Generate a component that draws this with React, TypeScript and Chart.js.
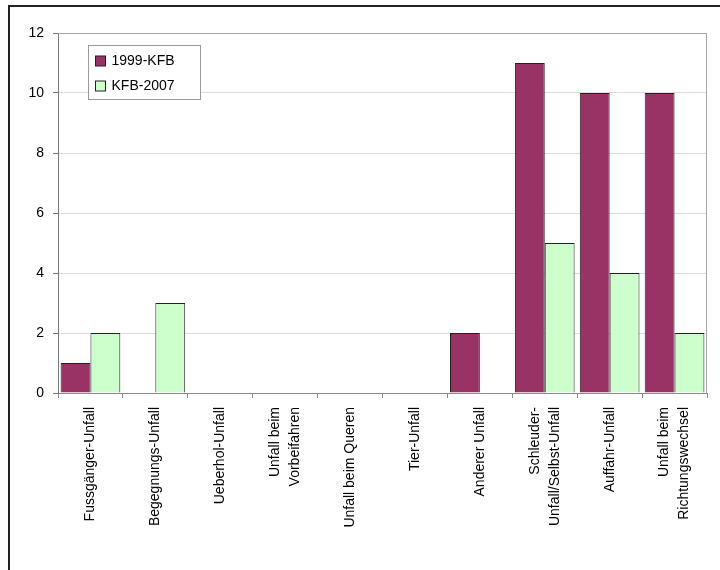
import React, { useEffect, useRef } from "react";
import { Chart, registerables } from "chart.js";

Chart.register(...registerables);

// Unfalltypen (x-axis categories); nested arrays are multi-line labels
const categories: (string | string[])[] = [
  "Fussgänger-Unfall",
  "Begegnungs-Unfall",
  "Ueberhol-Unfall",
  ["Unfall beim", "Vorbeifahren"],
  "Unfall beim Queren",
  "Tier-Unfall",
  "Anderer Unfall",
  ["Schleuder-", "Unfall/Selbst-Unfall"],
  "Auffahr-Unfall",
  ["Unfall beim", "Richtungswechsel"],
];

const seriesNames = ["1999-KFB", "KFB-2007"];
const values1999: number[] = [1, 0, 0, 0, 0, 0, 2, 11, 10, 10];
const values2007: number[] = [2, 3, 0, 0, 0, 0, 0, 5, 4, 2];

const yMin = 0;
const yMax = 12;
const yStep = 2;

const FONT = "'Liberation Sans', Arial, sans-serif";
const MAROON = "#993366";
const MINT = "#CCFFCC";

// White page, heavy outer frame and the grey plot-area border
const framePlugin = {
  id: "frame",
  beforeDraw(chart: Chart) {
    const { ctx, width, height } = chart;
    ctx.save();
    ctx.fillStyle = "#ffffff";
    ctx.fillRect(0, 0, width, height);
    ctx.strokeStyle = "#222222";
    ctx.lineWidth = 2;
    ctx.beginPath();
    ctx.moveTo(9, height + 5);
    ctx.lineTo(9, 6);
    ctx.lineTo(width + 5, 6);
    ctx.stroke();
    ctx.restore();
  },
  beforeDatasetsDraw(chart: Chart) {
    const { ctx, chartArea: a } = chart;
    ctx.save();
    ctx.strokeStyle = "#a6a6a6";
    ctx.lineWidth = 1;
    ctx.beginPath();
    ctx.moveTo(a.left, a.top + 0.5);
    ctx.lineTo(a.right - 0.5, a.top + 0.5);
    ctx.lineTo(a.right - 0.5, a.bottom);
    ctx.stroke();
    ctx.restore();
  },
};

// Vertical category labels, multi-line ones centred on their category
const verticalLabels = {
  id: "verticalLabels",
  afterDraw(chart: Chart) {
    const { ctx } = chart;
    const scale: any = chart.scales.x;
    const lineH = 20;
    ctx.save();
    ctx.font = `14px ${FONT}`;
    ctx.fillStyle = "#000000";
    ctx.textAlign = "right";
    ctx.textBaseline = "middle";
    (chart.data.labels as any[]).forEach((lab, i) => {
      const lines: string[] = Array.isArray(lab) ? lab : [lab];
      const cx = scale.getPixelForTick(i);
      const top = scale.top + 14;
      lines.forEach((line, j) => {
        const x = cx + (j - (lines.length - 1) / 2) * lineH;
        ctx.save();
        ctx.translate(x, top);
        ctx.rotate(-Math.PI / 2);
        ctx.fillText(line, 0, 0);
        ctx.restore();
      });
    });
    ctx.restore();
  },
};

// Boxed legend sitting inside the plot area, top-left
const boxedLegend = {
  id: "boxedLegend",
  afterDraw(chart: Chart) {
    const { ctx, chartArea: a } = chart;
    const x = a.left + 30.5;
    const y = a.top + 12.5;
    const w = 112;
    const h = 54;
    ctx.save();
    ctx.fillStyle = "#ffffff";
    ctx.fillRect(x, y, w, h);
    ctx.strokeStyle = "#9a9a9a";
    ctx.lineWidth = 1;
    ctx.strokeRect(x, y, w, h);
    ctx.font = `14px ${FONT}`;
    ctx.textBaseline = "middle";
    chart.data.datasets.forEach((ds: any, i: number) => {
      const cy = y + 15.5 + i * 25;
      ctx.fillStyle = ds.backgroundColor;
      ctx.fillRect(x + 7, cy - 5, 10, 10);
      ctx.strokeStyle = "#222222";
      ctx.strokeRect(x + 7, cy - 5, 10, 10);
      ctx.fillStyle = "#000000";
      ctx.fillText(ds.label, x + 23, cy + 0.5);
    });
    ctx.restore();
  },
};

export default function App() {
  const canvasRef = useRef<HTMLCanvasElement | null>(null);

  useEffect(() => {
    const canvas = canvasRef.current;
    if (!canvas) return;
    const chart = new Chart(canvas, {
      type: "bar",
      data: {
        labels: categories as any,
        datasets: [
          {
            label: seriesNames[0],
            data: values1999,
            backgroundColor: MAROON,
            borderColor: "#222222",
            borderWidth: 1,
            categoryPercentage: 0.92,
            barPercentage: 1.0,
          },
          {
            label: seriesNames[1],
            data: values2007,
            backgroundColor: MINT,
            borderColor: "#222222",
            borderWidth: 1,
            categoryPercentage: 0.92,
            barPercentage: 1.0,
          },
        ],
      },
      options: {
        animation: false,
        responsive: false,
        devicePixelRatio: 1,
        layout: { padding: { top: 33, right: 13, bottom: 0, left: 0 } },
        plugins: {
          legend: { display: false },
          tooltip: { enabled: false },
          title: { display: false },
        },
        scales: {
          x: {
            offset: true,
            grid: {
              offset: true,
              drawOnChartArea: false,
              drawTicks: true,
              tickLength: 5,
              tickColor: "#8c8c8c",
            },
            border: { color: "#8c8c8c", width: 1 },
            ticks: {
              display: false,
              autoSkip: false,
            },
            afterFit(scale: any) {
              scale.height = 177;
            },
          },
          y: {
            min: yMin,
            max: yMax,
            grid: {
              color: "#dcdcdc",
              tickColor: "#777777",
              tickLength: 5,
            },
            border: { color: "#777777", width: 1 },
            ticks: {
              stepSize: yStep,
              padding: 9,
              color: "#000000",
              font: { family: FONT, size: 14 },
            },
            afterFit(scale: any) {
              scale.width = 58;
            },
          },
        },
      },
      plugins: [framePlugin, verticalLabels, boxedLegend],
    });
    return () => chart.destroy();
  }, []);

  return (
    <div style={{ position: "fixed", left: 0, top: 0, width: 720, height: 570, overflow: "hidden" }}>
      <canvas ref={canvasRef} width={720} height={570} style={{ display: "block" }} />
    </div>
  );
}
